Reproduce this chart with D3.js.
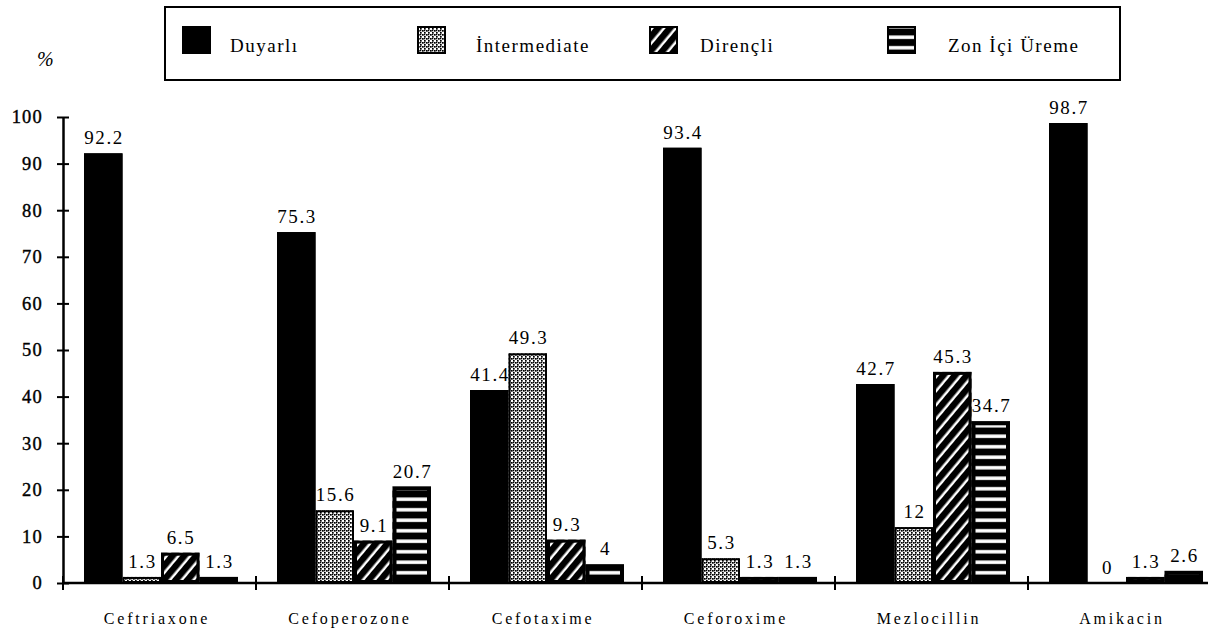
<!DOCTYPE html>
<html>
<head>
<meta charset="utf-8">
<script src="https://cdn.jsdelivr.net/npm/d3@7"></script>
<style>
  body { margin: 0; background: #fff; }
</style>
</head>
<body>
<div id="chart"></div>
<script>
// Data
const categories = ["Ceftriaxone", "Cefoperozone", "Cefotaxime", "Ceforoxime", "Mezlocillin", "Amikacin"];
const seriesNames = ["Duyarlı", "İntermediate", "Dirençli", "Zon İçi Üreme"];
const duyarli = [92.2, 75.3, 41.4, 93.4, 42.7, 98.7];
const intermediate = [1.3, 15.6, 49.3, 5.3, 12, 0];
const direncli = [6.5, 9.1, 9.3, 1.3, 45.3, 1.3];
const zonIci = [1.3, 20.7, 4, 1.3, 34.7, 2.6];
const yTicks = [0, 10, 20, 30, 40, 50, 60, 70, 80, 90, 100];

// Size of the drawing
const width = 1208;
const height = 636;
const axisX = 63;
const groupWidth = 193;
const serif = "Liberation Serif, Times New Roman, serif";

const svg = d3.select("#chart")
    .append("svg")
    .attr("width", width)
    .attr("height", height)
    .attr("font-family", serif);

// Hatch patterns for the four series
const defs = svg.append("defs");

const dots = defs.append("pattern")
    .attr("id", "dots")
    .attr("patternUnits", "userSpaceOnUse")
    .attr("width", 4)
    .attr("height", 4);
dots.append("rect").attr("width", 4).attr("height", 4).attr("fill", "#fff");
dots.append("rect").attr("x", 0).attr("y", 0).attr("width", 1.7).attr("height", 1.7).attr("fill", "#000");
dots.append("rect").attr("x", 2).attr("y", 2).attr("width", 1.7).attr("height", 1.7).attr("fill", "#000");
dots.append("rect").attr("x", 0).attr("y", 2).attr("width", 1.3).attr("height", 1.3).attr("fill", "#000");

const diag = defs.append("pattern")
    .attr("id", "diag")
    .attr("patternUnits", "userSpaceOnUse")
    .attr("width", 9)
    .attr("height", 9)
    .attr("patternTransform", "rotate(40)");
diag.append("rect").attr("width", 9).attr("height", 9).attr("fill", "#000");
diag.append("rect").attr("x", 3.5).attr("width", 2.5).attr("height", 9).attr("fill", "#fff");

const stripes = defs.append("pattern")
    .attr("id", "hstripe")
    .attr("patternUnits", "userSpaceOnUse")
    .attr("width", 10)
    .attr("height", 10.5);
stripes.append("rect").attr("width", 10).attr("height", 10.5).attr("fill", "#000");
stripes.append("rect").attr("y", 4).attr("width", 10).attr("height", 3.5).attr("fill", "#fff");

const fills = ["#000", "url(#dots)", "url(#diag)", "url(#hstripe)"];
const borders = [1, 2, 3, 4];

// Scales
const x0 = d3.scaleBand()
    .domain(categories)
    .range([axisX, axisX + categories.length * groupWidth]);

const x1 = d3.scaleBand()
    .domain(seriesNames)
    .range([21, 175]);

const y = d3.scaleLinear()
    .domain([0, 100])
    .range([583, 117]);

const seriesData = [duyarli, intermediate, direncli, zonIci];
const rows = categories.map((c, i) => ({
    category: c,
    values: seriesNames.map((s, j) => ({ series: s, index: j, value: seriesData[j][i] }))
}));

// Bars
const groups = svg.selectAll(".group")
    .data(rows)
    .enter()
    .append("g")
    .attr("class", "group")
    .attr("transform", d => `translate(${x0(d.category)},0)`);

const bars = groups.selectAll(".bar")
    .data(d => d.values.filter(v => v.value > 0))
    .enter();

bars.append("rect")
    .attr("x", d => x1(d.series))
    .attr("y", d => y(d.value))
    .attr("width", x1.bandwidth())
    .attr("height", d => y(0) - y(d.value))
    .attr("fill", d => fills[d.index]);

// Inner black border
bars.append("rect")
    .attr("x", d => x1(d.series) + borders[d.index] / 2)
    .attr("y", d => y(d.value) + Math.min(borders[d.index], y(0) - y(d.value)) / 2)
    .attr("width", d => x1.bandwidth() - borders[d.index])
    .attr("height", d => Math.max(0, y(0) - y(d.value) - borders[d.index]))
    .attr("fill", "none")
    .attr("stroke", "#000")
    .attr("stroke-width", d => borders[d.index]);

// Value labels
groups.selectAll(".val")
    .data(d => d.values)
    .enter()
    .append("text")
    .attr("class", "val")
    .attr("x", d => x1(d.series) + x1.bandwidth() / 2 + 0.8)
    .attr("y", d => y(d.value) - 9)
    .attr("text-anchor", "middle")
    .attr("font-size", 19)
    .attr("letter-spacing", 1.6)
    .text(d => d.value);

// Y axis with crossing ticks
const yAxis = svg.append("g")
    .attr("transform", `translate(${axisX},0)`)
    .call(d3.axisLeft(y).tickValues(yTicks).tickSize(6).tickSizeOuter(0).tickPadding(14))
    .attr("font-family", serif)
    .attr("font-size", 18.5);

yAxis.select(".domain").attr("stroke", "#000").attr("stroke-width", 2.5);
yAxis.selectAll(".tick line")
    .attr("x1", 6)
    .attr("x2", -6)
    .attr("stroke", "#000")
    .attr("stroke-width", 2);
yAxis.selectAll(".tick text")
    .attr("letter-spacing", 1.2)
    .attr("stroke", "#000")
    .attr("stroke-width", 0.4);

// X axis line and group separators
svg.append("line")
    .attr("x1", axisX)
    .attr("x2", width)
    .attr("y1", y(0))
    .attr("y2", y(0))
    .attr("stroke", "#000")
    .attr("stroke-width", 2.5);

svg.selectAll(".sep")
    .data(categories)
    .enter()
    .append("line")
    .attr("class", "sep")
    .attr("x1", d => x0(d))
    .attr("x2", d => x0(d))
    .attr("y1", y(0) - 7)
    .attr("y2", y(0) + 7)
    .attr("stroke", "#000")
    .attr("stroke-width", 2);

const xAxis = svg.append("g")
    .attr("transform", `translate(-2.5,${y(0)})`)
    .call(d3.axisBottom(x0).tickSize(0).tickPadding(30))
    .attr("font-family", serif)
    .attr("font-size", 16);
xAxis.select(".domain").remove();
xAxis.selectAll(".tick text")
    .attr("letter-spacing", 2.8);

// Percent sign
svg.append("text")
    .attr("x", 37)
    .attr("y", 66)
    .attr("font-size", 20)
    .attr("font-style", "italic")
    .text("%");

// Legend
const legendBox = svg.append("g");
legendBox.append("rect")
    .attr("x", 165)
    .attr("y", 7)
    .attr("width", 955)
    .attr("height", 73)
    .attr("fill", "none")
    .attr("stroke", "#000")
    .attr("stroke-width", 2);

const swatchX = [183, 418, 650, 888];
const labelX = [230, 476, 700, 948];

const legendItems = legendBox.selectAll(".item")
    .data(seriesNames)
    .enter()
    .append("g")
    .attr("class", "item");

legendItems.append("rect")
    .attr("x", (d, i) => swatchX[i])
    .attr("y", 27)
    .attr("width", 27)
    .attr("height", 26)
    .attr("fill", (d, i) => fills[i])
    .attr("stroke", "#000")
    .attr("stroke-width", 2);

legendItems.append("text")
    .attr("x", (d, i) => labelX[i])
    .attr("y", 52)
    .attr("font-size", 19)
    .attr("letter-spacing", 1.5)
    .text(d => d);
</script>
</body>
</html>
